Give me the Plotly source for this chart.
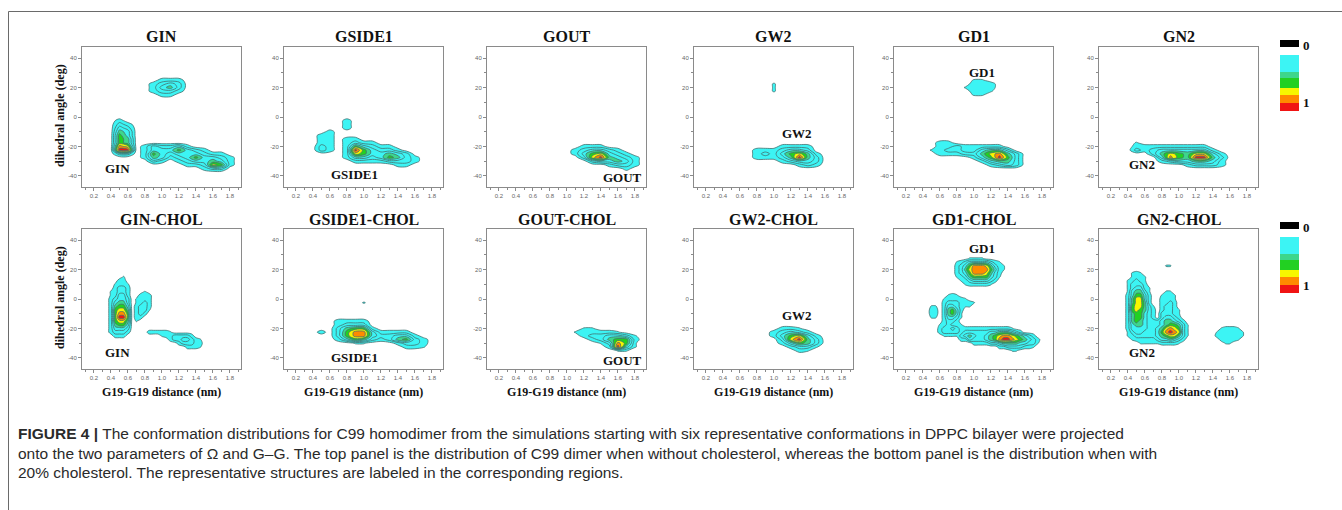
import numpy as np
import plotly.graph_objects as go

W, H = 1342, 510

# ---------------- data ----------------
PANEL_TITLES = ["GIN", "GSIDE1", "GOUT", "GW2", "GD1", "GN2",
                "GIN-CHOL", "GSIDE1-CHOL", "GOUT-CHOL", "GW2-CHOL", "GD1-CHOL", "GN2-CHOL"]
REGION_LABELS = ["GIN", "GSIDE1", "GOUT", "GW2", "GD1", "GN2"] * 2
LABEL_X = [0.48, 0.89, 1.65, 1.27, 1.09, 0.56, 0.48, 0.89, 1.65, 1.27, 1.10, 0.56]
LABEL_Y = [-35, -39, -41, -11, 30.5, -32.5, -36, -40, -42, -11.5, 34, -36.5]

X_TICKS = [0.2, 0.4, 0.6, 0.8, 1.0, 1.2, 1.4, 1.6, 1.8]
Y_TICKS = [-40, -20, 0, 20, 40]

# density rows: (dihedral angle, first distance, level digits; t = trace)
GIN_ROWS = [
    (25, 1.0, "111"), (22.5, 0.9, "1232"), (20, 0.9, "1342"), (17.5, 0.9, "1221"), (15, 1.0, "11"),
    (-2.5, 0.5, "1"), (-5, 0.5, "21"), (-7.5, 0.5, "32"), (-10, 0.5, "43"), (-12.5, 0.5, "53"),
    (-15, 0.5, "54"), (-17.5, 0.5, "54"), (-20, 0.5, "760132231"), (-22.5, 0.5, "88013335321"),
    (-25, 0.5, "2201532333211"), (-27.5, 0.8, "14312353321"), (-30, 0.9, "2101233431"),
    (-32.5, 1.3, "112651"), (-35, 1.5, "122"),
]
GSIDE1_ROWS = [
    (-2.5, 0.8, "1"), (-5, 0.8, "1"), (-7.5, 0.8, "1"), (-10, 0.6, "1"), (-12.5, 0.5, "11"),
    (-15, 0.5, "11011"), (-17.5, 0.5, "1101211"), (-20, 0.5, "210153211"),
    (-22.5, 0.5, "2101853221"), (-25, 0.8, "16533432"), (-27.5, 0.8, "133235421"),
    (-30, 0.9, "11112221"), (-32.5, 1.4, "11"),
]
GOUT_ROWS = [
    (-20, 1.2, "111"), (-22.5, 1.1, "123321"), (-25, 1.1, "1356321"), (-27.5, 1.2, "2684321"),
    (-30, 1.3, "233431"), (-32.5, 1.5, "1221"), (-35, 1.7, "1"),
]
GW2_ROWS = [
    (22.5, 1.0, "t"), (20, 1.0, "t"), (17.5, 1.0, "t"),
    (-20, 1.1, "1111"), (-22.5, 0.8, "1112332"), (-25, 0.8, "12135641"),
    (-27.5, 0.8, "11124842"), (-30, 1.1, "12332"), (-32.5, 1.3, "121"),
]
GD1_ROWS = [
    (25, 1.0, "tt"), (22.5, 1.0, "111"), (20, 0.9, "t111"), (17.5, 1.0, "11t"), (15, 1.0, "tt"),
    (-17.5, 0.6, "11"), (-20, 0.6, "11211111"), (-22.5, 0.5, "t122113442"),
    (-25, 0.6, "1112246742"), (-27.5, 1.0, "135852"), (-30, 1.1, "13442"), (-32.5, 1.2, "1232"),
]
GN2_ROWS = [
    (-17.5, 0.5, "t"), (-20, 0.5, "111111111"), (-22.5, 0.5, "2123333331"),
    (-25, 0.7, "246546631"), (-27.5, 0.8, "37548842"), (-30, 0.8, "12334431"),
    (-32.5, 1.1, "12221"),
]
GIN_CHOL_ROWS = [
    (15, 0.55, "t"), (12.5, 0.5, "11"), (10, 0.45, "t11t"), (7.5, 0.45, "1221"),
    (5, 0.4, "t1221"), (5, 0.8, "t"), (2.5, 0.4, "t1331"), (2.5, 0.75, "111"),
    (0, 0.4, "12332"), (0, 0.7, "t111"), (-2.5, 0.4, "13442"), (-2.5, 0.7, "t121"),
    (-5, 0.4, "14553"), (-5, 0.7, "1221"), (-7.5, 0.4, "15664"), (-7.5, 0.7, "122t"),
    (-10, 0.4, "15775"), (-10, 0.7, "121"), (-12.5, 0.4, "15885"), (-12.5, 0.7, "11"),
    (-15, 0.4, "15664"), (-15, 0.7, "t"), (-17.5, 0.4, "14553"), (-20, 0.4, "13332"),
    (-22.5, 0.4, "12221"), (-22.5, 0.85, "11111t"), (-25, 0.45, "111"), (-25, 1.0, "t1122221"),
    (-27.5, 1.1, "1223321t"), (-30, 1.2, "122211"), (-32.5, 1.3, "111t"),
]
GSIDE1_CHOL_ROWS = [
    (-2.5, 1.0, "t"), (-15, 0.7, "1111"), (-17.5, 0.7, "1222"), (-20, 0.7, "24551"),
    (-22.5, 0.5, "10257731111"), (-25, 0.7, "2577322331"), (-27.5, 0.7, "13542124521"),
    (-30, 0.9, "tt0001221"), (-32.5, 1.5, "11t"),
]
GOUT_CHOL_ROWS = [
    (-20, 1.2, "tt"), (-22.5, 1.1, "t1111t"), (-25, 1.2, "122332t"), (-27.5, 1.3, "124551"),
    (-30, 1.4, "t275t"), (-32.5, 1.5, "183t"), (-35, 1.6, "tt"),
]
GW2_CHOL_ROWS = [
    (-20, 1.1, "11t"), (-22.5, 1.0, "12321"), (-25, 1.0, "135631"), (-27.5, 1.1, "26842"),
    (-30, 1.1, "13542"), (-32.5, 1.2, "122t"), (-35, 1.3, "1t"),
]
GD1_CHOL_ROWS = [
    (27.5, 0.95, "tttt"), (25, 0.8, "t123333321t"), (22.5, 0.8, "12357776421t"),
    (20, 0.8, "12467777531t"), (17.5, 0.8, "12357776421"), (15, 0.8, "t124555532t"),
    (12.5, 0.85, "t12333321"), (10, 0.9, "t11111t"),
    (2.5, 0.7, "t1t"), (0, 0.65, "t1111t"), (-2.5, 0.65, "1222111t"),
    (-5, 0.5, "tt013321tt"), (-7.5, 0.5, "11014531"), (-10, 0.5, "1101453t"),
    (-12.5, 0.5, "tt01332t"), (-15, 0.65, "1221"), (-17.5, 0.6, "t1211t"),
    (-20, 0.6, "12232111111111111t"), (-22.5, 0.6, "12222122222233444321"),
    (-25, 0.65, "tttt234322345677654321"), (-27.5, 0.85, "1132223457887654321"),
    (-30, 1.0, "111122344443322t"), (-32.5, 1.3, "11222211t"), (-35, 1.45, "tt"),
]
GN2_CHOL_ROWS = [
    (22.5, 0.85, "tt"), (17.5, 0.45, "t1t"), (15, 0.45, "t11t"), (12.5, 0.4, "t121t"),
    (10, 0.4, "t2221"), (7.5, 0.4, "t2331t"), (5, 0.4, "t3442t000tt"),
    (2.5, 0.4, "13553100t11t"), (0, 0.4, "14663100111t"), (-2.5, 0.4, "146641001121"),
    (-5, 0.4, "156642t01221"), (-7.5, 0.4, "156542101221t"), (-10, 0.4, "145532102221t"),
    (-12.5, 0.4, "1455321023321"), (-15, 0.4, "14543222344321"),
    (-17.5, 0.4, "13443222345542t"),
    (-20, 0.4, "13333223467652t"), (-20, 1.5, "t111t"),
    (-22.5, 0.4, "t2332223578762t"), (-22.5, 1.45, "t11111t"),
    (-25, 0.4, "t1222223456642t"), (-25, 1.45, "111111t"),
    (-27.5, 0.45, "t111112334321"), (-27.5, 1.5, "1111t"),
    (-30, 0.55, "ttttt1111t"), (-30, 1.55, "tt"),
]
PANEL_ROWS = [GIN_ROWS, GSIDE1_ROWS, GOUT_ROWS, GW2_ROWS, GD1_ROWS, GN2_ROWS,
              GIN_CHOL_ROWS, GSIDE1_CHOL_ROWS, GOUT_CHOL_ROWS, GW2_CHOL_ROWS,
              GD1_CHOL_ROWS, GN2_CHOL_ROWS]
PANEL_DX = [0.1, 0.1, 0.1, 0.1, 0.1, 0.1, 0.05, 0.1, 0.1, 0.1, 0.05, 0.05]

LEVEL_COLORS = ["#3cf4f4", "#3dd68c", "#22d022", "#f7f700", "#ff8a00", "#f01414"]
LEGEND_LABELS = ["0", "1"]

# ---------------- styling / layout ----------------
CYAN, SEA, GREEN, YEL, ORA, RED = LEVEL_COLORS
COLORSCALE = [[0, "#ffffff"], [1 / 8, CYAN], [2 / 8, CYAN], [3 / 8, CYAN], [4 / 8, SEA],
              [5 / 8, GREEN], [6 / 8, YEL], [7 / 8, ORA], [1, RED]]
LEFTS = [82, 284, 487, 694, 894, 1099]
PW = 159
ROW_TOPS = [47, 229]
PH = 140
SERIF = "Liberation Serif"
TRACE_LEVEL = 0.6


def build_grid(rows, dx):
    xs = np.round(np.arange(0.1, 2.0 + 1e-9, dx), 3)
    ys = np.round(np.arange(-45, 45 + 1e-9, 2.5), 3)
    z = np.zeros((len(ys), len(xs)))
    for y, x0, s in rows:
        r = int(round((y + 45) / 2.5))
        c0 = int(round((x0 - 0.1) / dx))
        for k, ch in enumerate(s):
            z[r, c0 + k] = TRACE_LEVEL if ch == "t" else int(ch)
    return xs, ys, z


def fx(p):
    return p / W


def fy(p):
    return 1 - p / H


fig = go.Figure()
layout = dict(width=W, height=H, margin=dict(l=0, r=0, t=0, b=0),
              paper_bgcolor="white", plot_bgcolor="white", showlegend=False)
annotations = []
shapes = []

for i in range(12):
    row, col = divmod(i, 6)
    L = LEFTS[col]
    T = ROW_TOPS[row]
    sfx = "" if i == 0 else str(i + 1)
    xs, ys, z = build_grid(PANEL_ROWS[i], PANEL_DX[i])
    fig.add_trace(go.Contour(
        x=xs, y=ys, z=z, xaxis="x" + sfx, yaxis="y" + sfx,
        contours=dict(start=0.5, end=7.5, size=1, coloring="fill"),
        colorscale=COLORSCALE, showscale=False,
        line=dict(color="#44706f", width=0.8, smoothing=0.9),
        hoverinfo="skip"))
    axis_common = dict(showgrid=False, zeroline=False, showline=True, mirror=True,
                       linecolor="#8a8a8a", linewidth=1, ticks="outside", ticklen=3,
                       tickcolor="#8a8a8a", tickfont=dict(family="Liberation Sans", size=6, color="#666"))
    layout["xaxis" + sfx] = dict(
        axis_common, domain=[fx(L), fx(L + PW)], range=[0.06, 1.93], anchor="y" + sfx,
        tickvals=X_TICKS, ticktext=["%.1f" % v for v in X_TICKS],
        minor=dict(ticks="outside", ticklen=2, dtick=0.1, tick0=0.1, tickcolor="#8a8a8a"))
    layout["yaxis" + sfx] = dict(
        axis_common, domain=[fy(T + PH), fy(T)], range=[-47.5, 47.5], anchor="x" + sfx,
        tickvals=Y_TICKS, ticktext=[str(v) for v in Y_TICKS],
        minor=dict(ticks="outside", ticklen=2, dtick=10, tick0=0, tickcolor="#8a8a8a"))
    annotations.append(dict(xref="paper", yref="paper", x=fx(L + PW / 2), y=fy(T - 10),
                            text="<b>%s</b>" % PANEL_TITLES[i], showarrow=False,
                            xanchor="center", yanchor="middle",
                            font=dict(family=SERIF, size=16, color="#111")))
    annotations.append(dict(xref="x" + sfx, yref="y" + sfx, x=LABEL_X[i], y=LABEL_Y[i],
                            text="<b>%s</b>" % REGION_LABELS[i], showarrow=False,
                            xanchor="center", yanchor="middle",
                            font=dict(family=SERIF, size=13, color="#111")))
    if col == 0:
        annotations.append(dict(xref="paper", yref="paper", x=fx(60), y=fy(T + 69),
                                text="<b>dihedral angle (deg)</b>", textangle=-90,
                                showarrow=False, xanchor="center", yanchor="middle",
                                font=dict(family=SERIF, size=12, color="#111")))
    if row == 1:
        annotations.append(dict(xref="paper", yref="paper", x=fx(L + PW / 2), y=fy(392),
                                text="<b>G19-G19 distance (nm)</b>", showarrow=False,
                                xanchor="center", yanchor="middle",
                                font=dict(family=SERIF, size=12, color="#111")))

# colour keys (one per row)
BAND_EDGES = [55, 72, 78, 88, 95, 103, 111]
for r, off in enumerate([0, 182]):
    shapes.append(dict(type="rect", xref="paper", yref="paper", x0=fx(1280), x1=fx(1299),
                       y0=fy(47 + off), y1=fy(40 + off), fillcolor="black", line=dict(width=0)))
    for k, c in enumerate(LEVEL_COLORS):
        shapes.append(dict(type="rect", xref="paper", yref="paper", x0=fx(1280), x1=fx(1299),
                           y0=fy(BAND_EDGES[k + 1] + off), y1=fy(BAND_EDGES[k] + off),
                           fillcolor=c, line=dict(width=0)))
    for lab, yy in zip(LEGEND_LABELS, [45, 103]):
        annotations.append(dict(xref="paper", yref="paper", x=fx(1301), y=fy(yy + off),
                                text="<b>%s</b>" % lab, showarrow=False, xanchor="left",
                                yanchor="middle", font=dict(family=SERIF, size=13, color="#111")))

# outer frame
shapes.append(dict(type="rect", xref="paper", yref="paper", x0=fx(8.5), x1=fx(1360),
                   y0=fy(530), y1=fy(11.5), line=dict(color="#6a6a6a", width=1),
                   fillcolor="rgba(0,0,0,0)"))

CAPTION = [
    "<b>FIGURE 4 |</b> The conformation distributions for C99 homodimer from the simulations "
    "starting with six representative conformations in DPPC bilayer were projected",
    "onto the two parameters of Ω and G\u2013G. The top panel is the distribution of C99 dimer when "
    "without cholesterol, whereas the bottom panel is the distribution when with",
    "20% cholesterol. The representative structures are labeled in the corresponding regions.",
]
for line, yy in zip(CAPTION, [433, 453, 472]):
    annotations.append(dict(xref="paper", yref="paper", x=fx(16), y=fy(yy), text=line,
                            showarrow=False, xanchor="left", yanchor="middle", align="left",
                            font=dict(family="Liberation Sans", size=15.5, color="#2a2a2a")))

layout["annotations"] = annotations
layout["shapes"] = shapes
fig.update_layout(**layout)
fig.write_html("out.html", config={"displayModeBar": False},
               post_script="document.body.style.margin='0';document.body.style.overflow='hidden';")
